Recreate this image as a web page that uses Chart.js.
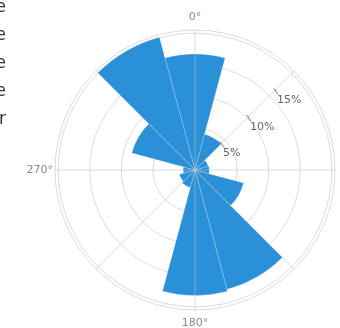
<!DOCTYPE html>
<html>
<head>
<meta charset="utf-8">
<script src="https://cdn.jsdelivr.net/npm/chart.js@4/dist/chart.umd.min.js"></script>
<style>
	html, body { margin: 0; padding: 0; background: #fff; }
	#wrap { width: 340px; height: 328px; position: relative; }
</style>
</head>
<body>
<div id="wrap"><canvas id="chart"></canvas></div>
<script>
// direction sectors (degrees, clockwise from north) and share of time in %
const directions = ["0°", "30°", "60°", "90°", "120°", "150°", "180°", "210°", "240°", "270°", "300°", "330°"];
const frequency = [16.7, 4.2, 0.5, 0.6, 6.3, 17.9, 18.2, 1.2, 0.9, 0.2, 8.7, 20.1];

const ringValues = [5, 10, 15, 20];
const ringLabels = ["5%", "10%", "15%"];
const compassAngles = [0, 180, 270];
const compassLabels = ["0°", "180°", "270°"];
const sideLetters = ["e", "e", "e", "e", "r"];

const toXY = (scale, bearing, r) => {
	const a = (bearing - 90) * Math.PI / 180;
	return { x: scale.xCenter + r * Math.cos(a), y: scale.yCenter + r * Math.sin(a) };
};

const roseDecor = {
	id: "roseDecor",
	afterDatasetsDraw(chart) {
		const scale = chart.scales.r;
		const ctx = chart.ctx;
		ctx.save();
		ctx.strokeStyle = "rgba(190,190,190,0.55)";
		ctx.lineWidth = 1;
		for (let b = 0; b < 360; b += 45) {
			const p = toXY(scale, b, scale.drawingArea);
			ctx.beginPath();
			ctx.moveTo(scale.xCenter, scale.yCenter);
			ctx.lineTo(p.x, p.y);
			ctx.stroke();
		}
		ctx.restore();
	},
	afterDraw(chart) {
		const scale = chart.scales.r;
		const ctx = chart.ctx;
		ctx.save();
		// radial tick labels
		ctx.font = "11px 'DejaVu Sans'";
		ctx.fillStyle = "#666";
		ctx.strokeStyle = "#777";
		ctx.textAlign = "left";
		ctx.textBaseline = "middle";
		ringLabels.forEach((label, i) => {
			const r = scale.getDistanceFromCenterForValue(ringValues[i]);
			const x = scale.xCenter + r * 0.855 - 8;
			const y = scale.yCenter - r * 0.84 + 19;
			ctx.beginPath();
			ctx.moveTo(x - 3, y - 12);
			ctx.lineTo(x + 1, y - 6);
			ctx.stroke();
			ctx.fillText(label, x, y);
		});
		// compass labels
		ctx.fillStyle = "#888";
		compassLabels.forEach((label, i) => {
			const b = compassAngles[i];
			if (b === 270) {
				const p = toXY(scale, b, scale.drawingArea + 2);
				ctx.textAlign = "right";
				ctx.fillText(label, p.x, p.y);
			} else {
				const p = toXY(scale, b, scale.drawingArea + 13);
				ctx.textAlign = "center";
				ctx.fillText(label, p.x, p.y);
			}
		});
		// clipped text from the neighbouring panel
		ctx.font = "17px 'DejaVu Sans'";
		ctx.fillStyle = "#333";
		ctx.textAlign = "right";
		sideLetters.forEach((ch, i) => {
			ctx.fillText(ch, 6, 8 + i * 28);
		});
		ctx.restore();
	},
};

const ctx = document.querySelector("#chart").getContext("2d");
const rose = new Chart(ctx, {
	type: "polarArea",
	data: {
		labels: directions,
		datasets: [
			{
				data: frequency,
				backgroundColor: "#2a90d8",
				borderColor: "rgba(255,255,255,0.2)",
				borderWidth: 1,
			},
		],
	},
	options: {
		responsive: true,
		maintainAspectRatio: false,
		animation: false,
		layout: { padding: { left: 55, right: 5, top: 30, bottom: 18 } },
		plugins: {
			legend: { display: false },
			tooltip: { enabled: false },
		},
		scales: {
			r: {
				startAngle: -15,
				min: -1.67,
				max: 20.5,
				ticks: { display: false, z: 1 },
				afterBuildTicks: scale => {
					scale.ticks = ringValues.concat([20.5]).map(v => ({ value: v }));
				},
				grid: { circular: true, color: "rgba(190,190,190,0.55)", lineWidth: 1 },
				angleLines: { display: false },
				pointLabels: { display: false },
			},
		},
	},
	plugins: [roseDecor],
});
</script>
</body>
</html>
